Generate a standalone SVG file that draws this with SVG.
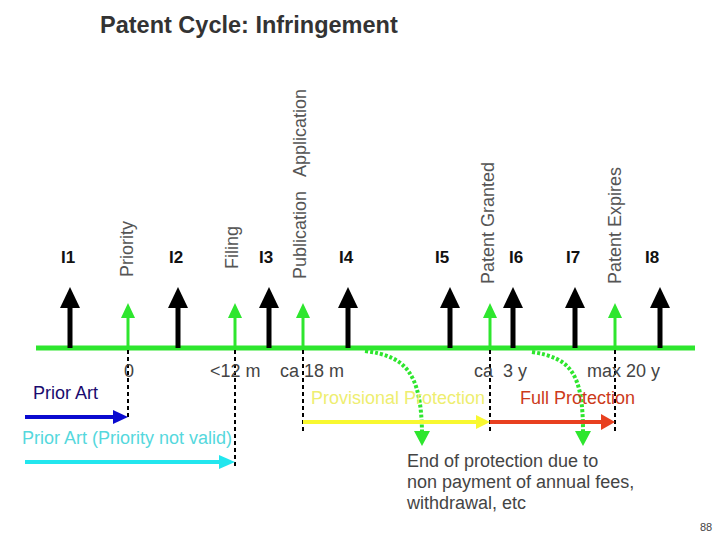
<svg xmlns="http://www.w3.org/2000/svg" width="720" height="540" viewBox="0 0 720 540">
<style>
text{font-family:"Liberation Sans",Arial,sans-serif}
.lbl{font-size:17px;font-weight:bold;fill:#111;text-anchor:middle}
.rot{font-size:18px;fill:#555}
.val{font-size:18px;fill:#444}
.blk{stroke:#000;stroke-width:5}
.grn{stroke:#2ee62e;stroke-width:3}
.dash{stroke:#000;stroke-width:2;stroke-dasharray:4 3;fill:none}
.dot{stroke:#2ee62e;stroke-width:4;stroke-dasharray:3 2;fill:none}
</style>
<rect width="720" height="540" fill="#fff"/>
<text x="100" y="33" style="font-size:23.5px;font-weight:bold;fill:#333">Patent Cycle: Infringement</text>

<g id="connectors">
<line x1="36" y1="348" x2="695" y2="348" stroke="#2ee62e" stroke-width="5"/>
<line class="dash" x1="128" y1="350" x2="128" y2="420"/>
<line class="dash" x1="235" y1="350" x2="235" y2="468"/>
<line class="dash" x1="303" y1="350" x2="303" y2="433"/>
<line class="dash" x1="490" y1="350" x2="490" y2="433"/>
<line class="dash" x1="615" y1="350" x2="615" y2="433"/>
<path class="dot" d="M365,351 C405,356 421,372 422,432"/>
<path d="M414,431 L430,431 L422,446 Z" fill="#2ee62e"/>
<path class="dot" d="M532,352 C570,358 583,372 583,432"/>
<path d="M575,431 L591,431 L583,446 Z" fill="#2ee62e"/>
</g>

<g id="events">
<g id="I1"><line class="blk" x1="70" y1="348" x2="70" y2="305"/><path d="M60,308 L70,287 L80,308 Z"/><text class="lbl" x="68" y="263">I1</text></g>
<g id="I2"><line class="blk" x1="178" y1="348" x2="178" y2="305"/><path d="M168,308 L178,287 L188,308 Z"/><text class="lbl" x="176" y="263">I2</text></g>
<g id="I3"><line class="blk" x1="269" y1="348" x2="269" y2="305"/><path d="M259,308 L269,287 L279,308 Z"/><text class="lbl" x="266" y="263">I3</text></g>
<g id="I4"><line class="blk" x1="348" y1="348" x2="348" y2="305"/><path d="M338,308 L348,287 L358,308 Z"/><text class="lbl" x="346" y="263">I4</text></g>
<g id="I5"><line class="blk" x1="450" y1="348" x2="450" y2="305"/><path d="M440,308 L450,287 L460,308 Z"/><text class="lbl" x="442" y="263">I5</text></g>
<g id="I6"><line class="blk" x1="513" y1="348" x2="513" y2="305"/><path d="M503,308 L513,287 L523,308 Z"/><text class="lbl" x="516" y="263">I6</text></g>
<g id="I7"><line class="blk" x1="575" y1="348" x2="575" y2="305"/><path d="M565,308 L575,287 L585,308 Z"/><text class="lbl" x="573" y="263">I7</text></g>
<g id="I8"><line class="blk" x1="660" y1="348" x2="660" y2="305"/><path d="M650,308 L660,287 L670,308 Z"/><text class="lbl" x="652" y="263">I8</text></g>
</g>

<g id="milestones">
<g id="priority"><line class="grn" x1="128" y1="348" x2="128" y2="316"/><path d="M121,318 L128,303 L135,318 Z" fill="#2ee62e"/><text class="rot" transform="translate(133,277) rotate(-90)">Priority</text></g>
<g id="filing"><line class="grn" x1="235" y1="348" x2="235" y2="316"/><path d="M228,318 L235,303 L242,318 Z" fill="#2ee62e"/><text class="rot" transform="translate(238,269) rotate(-90)">Filing</text></g>
<g id="publication"><line class="grn" x1="303" y1="348" x2="303" y2="316"/><path d="M296,318 L303,303 L310,318 Z" fill="#2ee62e"/><text class="rot" transform="translate(306,279) rotate(-90)" xml:space="preserve">Publication   Application</text></g>
<g id="granted"><line class="grn" x1="490" y1="348" x2="490" y2="316"/><path d="M483,318 L490,303 L497,318 Z" fill="#2ee62e"/><text class="rot" transform="translate(494,284) rotate(-90)">Patent Granted</text></g>
<g id="expires"><line class="grn" x1="615" y1="348" x2="615" y2="316"/><path d="M608,318 L615,303 L622,318 Z" fill="#2ee62e"/><text class="rot" transform="translate(621,284) rotate(-90)">Patent Expires</text></g>
</g>

<g id="values">
<text class="val" x="124" y="377">0</text>
<text class="val" x="210" y="377">&lt;12 m</text>
<text class="val" x="280" y="377">ca 18 m</text>
<text class="val" x="474" y="377" xml:space="preserve">ca  3 y</text>
<text class="val" x="587" y="377">max 20 y</text>
</g>

<g id="prior-art">
<text x="33" y="399" style="font-size:18px;fill:#1a0a6e">Prior Art</text>
<line x1="25" y1="417" x2="116" y2="417" stroke="#0a0ad0" stroke-width="4"/>
<path d="M113,410 L128,417 L113,424 Z" fill="#0a0ad0"/>
</g>
<g id="prior-art-invalid">
<text x="22" y="444" style="font-size:18px;fill:#55d8dd">Prior Art (Priority not valid)</text>
<line x1="25" y1="462" x2="222" y2="462" stroke="#22e6ee" stroke-width="4"/>
<path d="M219,455 L235,462 L219,469 Z" fill="#22e6ee"/>
</g>
<g id="provisional">
<text x="311" y="404" style="font-size:18px;fill:#eeee70">Provisional Protection</text>
<line x1="303" y1="422" x2="478" y2="422" stroke="#f8f830" stroke-width="4"/>
<path d="M476,415 L490,422 L476,429 Z" fill="#f8f830"/>
</g>
<g id="full">
<text x="520" y="404" style="font-size:18px;fill:#cc3a1a">Full Protection</text>
<line x1="490" y1="422" x2="603" y2="422" stroke="#e84020" stroke-width="4"/>
<path d="M601,414 L615,422 L601,430 Z" fill="#e84020"/>
</g>
<g id="note">
<text class="val" x="407" y="467">End of protection due to</text>
<text class="val" x="407" y="488">non payment of annual fees,</text>
<text class="val" x="407" y="509">withdrawal, etc</text>
</g>
<text x="700" y="531" style="font-size:11px;fill:#444">88</text>
</svg>
